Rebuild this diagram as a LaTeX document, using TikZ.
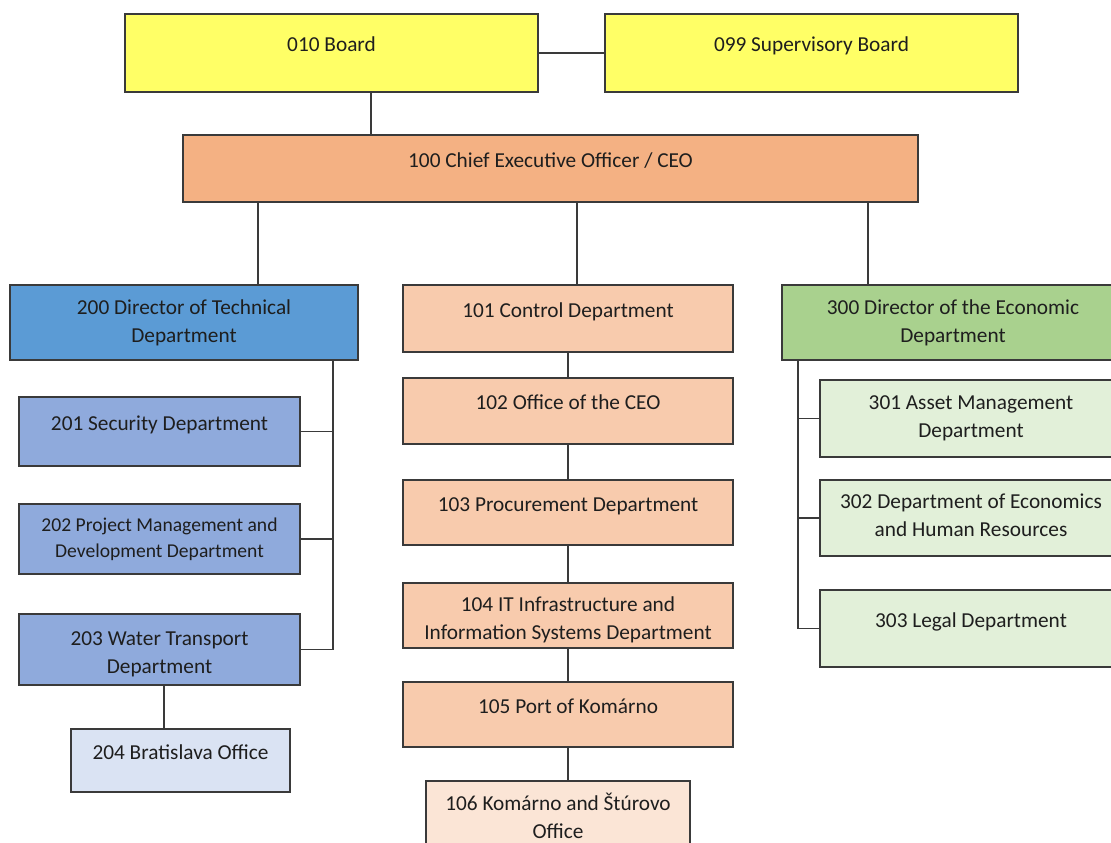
\documentclass[tikz,border=0pt]{standalone}
\usepackage{fontspec}
\setmainfont{Carlito}
\usetikzlibrary{calc}

\definecolor{boardyellow}{HTML}{FFFF66}
\definecolor{ceoorange}{HTML}{F4B183}
\definecolor{ceolight}{HTML}{F8CBAD}
\definecolor{ceopale}{HTML}{FBE5D6}
\definecolor{techblue}{HTML}{5B9BD5}
\definecolor{techlight}{HTML}{8FAADC}
\definecolor{techpale}{HTML}{DAE3F3}
\definecolor{econgreen}{HTML}{A9D18E}
\definecolor{econpale}{HTML}{E2F0D9}
\definecolor{linegray}{HTML}{3A3A3A}
\definecolor{textdark}{HTML}{1E1E1E}

\tikzset{
  unit/.style={rectangle, draw=linegray, line width=1.3pt, align=center,
    text=textdark, inner sep=0pt, font=\fontsize{21.3}{28}\selectfont},
  oneline/.style={text height=14pt, text depth=16.35pt},
  link/.style={draw=linegray, line width=1.3pt},
}

\begin{document}
\begin{tikzpicture}[x=1pt,y=-1pt]
\useasboundingbox (0,0) rectangle (1111,843);
\clip (0,0) rectangle (1111,843);
\node[unit,oneline,fill=boardyellow,minimum width=413pt,minimum height=78pt] (board) at (331.5,53) {010 Board};
\node[unit,oneline,fill=boardyellow,minimum width=413pt,minimum height=78pt] (sup) at (811.5,53) {099 Supervisory Board};
\node[unit,oneline,fill=ceoorange,minimum width=735pt,minimum height=67pt] (ceo) at (550.5,168.5) {100 Chief Executive Officer / CEO};
\node[unit,fill=techblue,minimum width=348pt,minimum height=75pt] (tech) at (184,322.5) {200 Director of Technical\\Department};
\node[unit,oneline,fill=ceolight,minimum width=330pt,minimum height=67pt] (ctrl) at (568,318.5) {101 Control Department};
\node[unit,fill=econgreen,minimum width=342pt,minimum height=75pt] (econ) at (953,322.5) {300 Director of the Economic\\Department};
\node[unit,oneline,fill=techlight,minimum width=281pt,minimum height=69pt] (sec) at (159.5,431.5) {201 Security Department};
\node[unit,fill=techlight,minimum width=281pt,minimum height=70pt,font=\fontsize{19.6}{26}\selectfont] (pm) at (159.5,539) {202 Project Management and\\Development Department};
\node[unit,fill=techlight,minimum width=281pt,minimum height=71pt,text height=51.5pt] (wt) at (159.5,649.5) {203 Water Transport\\Department};
\node[unit,oneline,fill=techpale,minimum width=219pt,minimum height=63pt] (brat) at (180.5,760.5) {204 Bratislava Office};
\node[unit,oneline,fill=ceolight,minimum width=330pt,minimum height=66pt] (office) at (568,411) {102 Office of the CEO};
\node[unit,oneline,fill=ceolight,minimum width=330pt,minimum height=65pt] (proc) at (568,512.5) {103 Procurement Department};
\node[unit,fill=ceolight,minimum width=330pt,minimum height=65pt,text height=52pt] (it) at (568,615.5) {104 IT Infrastructure and\\Information Systems Department};
\node[unit,oneline,fill=ceolight,minimum width=330pt,minimum height=65pt] (port) at (568,714.5) {105 Port of Komárno};
\node[unit,fill=ceopale,minimum width=264pt,minimum height=70pt] (kom) at (558,816) {106 Komárno and Štúrovo\\Office};
\node[unit,fill=econpale,minimum width=302pt,minimum height=77pt] (asset) at (971,418.5) {301 Asset Management\\Department};
\node[unit,fill=econpale,minimum width=302pt,minimum height=76pt,text depth=6pt] (hr) at (971,518) {302 Department of Economics\\and Human Resources};
\node[unit,oneline,fill=econpale,minimum width=302pt,minimum height=77pt] (legal) at (971,628.5) {303 Legal Department};

\draw[link] (board) -- (sup);
\draw[link] ($(board.south)+(39.5,0)$) coordinate (b1) -- (b1 |- ceo.north);
\draw[link] ($(ceo.south)+(-292.5,0)$) coordinate (c1) -- (c1 |- tech.north);
\draw[link] ($(ceo.south)+(26.5,0)$) coordinate (c2) -- (c2 |- ctrl.north);
\draw[link] ($(ceo.south)+(317.5,0)$) coordinate (c3) -- (c3 |- econ.north);
\draw[link] ($(tech.south)+(149,0)$) coordinate (t1) -- (t1 |- wt.east) -- (wt.east);
\draw[link] (sec.east) -- (sec.east -| t1);
\draw[link] (pm.east) -- (pm.east -| t1);
\draw[link] ($(wt.south)+(4.5,0)$) coordinate (w1) -- (w1 |- brat.north);
\draw[link] (ctrl) -- (office);
\draw[link] (office) -- (proc);
\draw[link] (proc) -- (it);
\draw[link] (it) -- (port);
\draw[link] (port.south) -- (port.south |- kom.north);
\draw[link] ($(econ.south)+(-155,0)$) coordinate (e1) -- (e1 |- legal.west) -- (legal.west);
\draw[link] (asset.west) -- (asset.west -| e1);
\draw[link] (hr.west) -- (hr.west -| e1);
\end{tikzpicture}
\end{document}
